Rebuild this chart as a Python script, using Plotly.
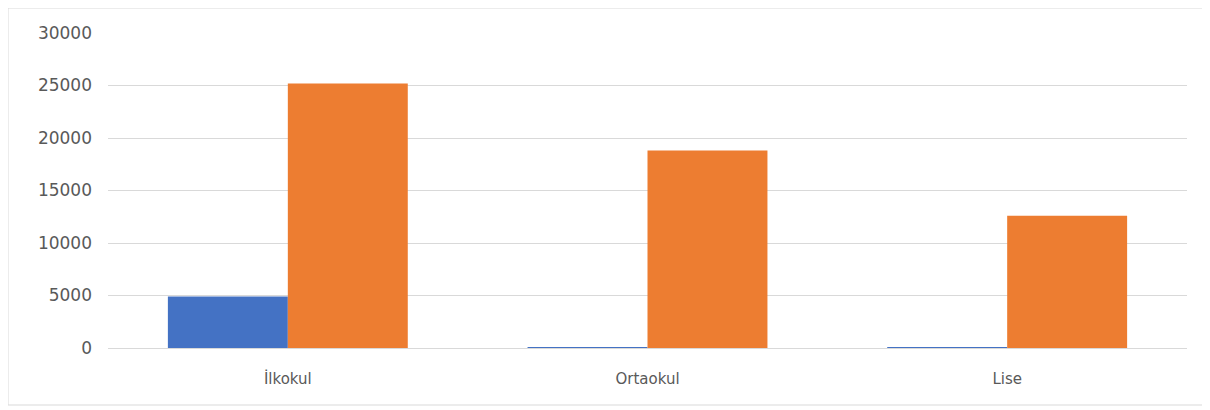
import plotly.graph_objects as go

categories = ["İlkokul", "Ortaokul", "Lise"]
series_a = [4900, 60, 60]
series_b = [25200, 18800, 12600]
y_ticks = [0, 5000, 10000, 15000, 20000, 25000, 30000]
y_tick_labels = ["0", "5000", "10000", "15000", "20000", "25000", "30000"]

# page has an 8px body margin; figure sized to fit the 1210x410 window
W, H = 1202, 402
ml, mr, mt, mb = 100, 23, 25, 62
pw, ph = W - ml - mr, H - mt - mb

fig = go.Figure()
fig.add_trace(go.Bar(x=categories, y=series_a, marker=dict(color="#4472C4", line=dict(width=0)), name="A"))
fig.add_trace(go.Bar(x=categories, y=series_b, marker=dict(color="#ED7D31", line=dict(width=0)), name="B"))

fig.update_layout(
    width=W, height=H,
    margin=dict(l=ml, r=mr, t=mt, b=mb, pad=0),
    barmode="group", bargap=0.333, bargroupgap=0,
    plot_bgcolor="white", paper_bgcolor="white",
    showlegend=False,
    font=dict(family="DejaVu Sans, sans-serif", size=15, color="#595959"),
    xaxis=dict(showgrid=False, showline=True, linecolor="#D9D9D9", linewidth=1,
               ticks="", ticklabelstandoff=17, tickfont=dict(size=15, color="#595959")),
    yaxis=dict(range=[0, 30000], tickvals=y_ticks, ticktext=y_tick_labels,
               showgrid=True, gridcolor="#D9D9D9",
               gridwidth=1, zeroline=False, showline=False, ticks="",
               ticklabelstandoff=15, tickfont=dict(size=17, color="#595959")),
    shapes=[dict(type="rect", xref="paper", yref="paper",
                 x0=(0 - ml) / pw, x1=(1198 - ml) / pw,
                 y0=(H - mb - 397) / ph, y1=(H - mb - 0) / ph,
                 line=dict(color="#D9D9D9", width=1), fillcolor="rgba(0,0,0,0)", layer="below")],
)

fig.write_html("out.html")
